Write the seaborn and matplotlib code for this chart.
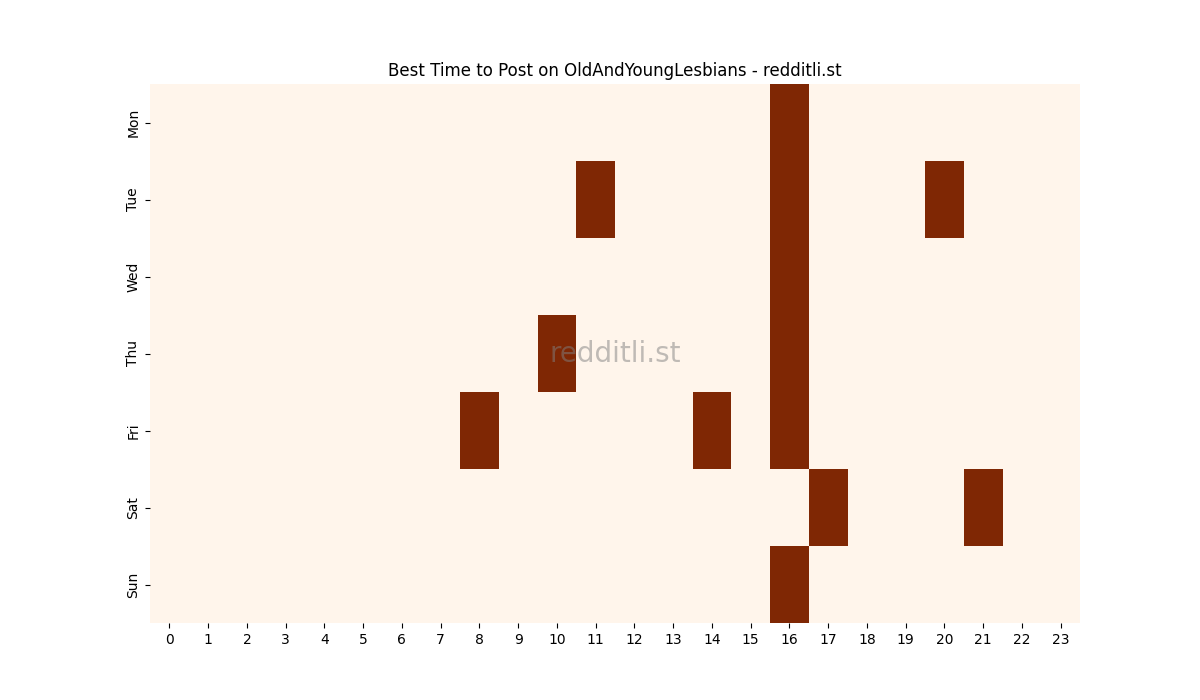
import matplotlib
matplotlib.use("Agg")
import matplotlib.pyplot as plt
import seaborn as sns
import numpy as np
import pandas as pd

days = ["Mon", "Tue", "Wed", "Thu", "Fri", "Sat", "Sun"]
hours = list(range(24))
# best hours per day (value 1), others 0
mon = [16]
tue = [11, 16, 20]
wed = [16]
thu = [10, 16]
fri = [8, 14, 16]
sat = [17, 21]
sun = [16]

best = [mon, tue, wed, thu, fri, sat, sun]
grid = np.zeros((len(days), len(hours)))
for i, hs in enumerate(best):
    for h in hs:
        grid[i, h] = 1
df = pd.DataFrame(grid, index=days, columns=hours)

fig, ax = plt.subplots(figsize=(12, 7), dpi=100)
sns.heatmap(df, cmap="Oranges", cbar=False, ax=ax)
ax.set_title("Best Time to Post on OldAndYoungLesbians - redditli.st")
ax.set_yticklabels(days, rotation=90, va="center")
ax.set_xticklabels([str(h) for h in hours], rotation=0)
ax.text(0.5, 0.5, "redditli.st", transform=ax.transAxes, fontsize=20,
        color="gray", alpha=0.5, ha="center", va="center")
fig.savefig("out.png")
